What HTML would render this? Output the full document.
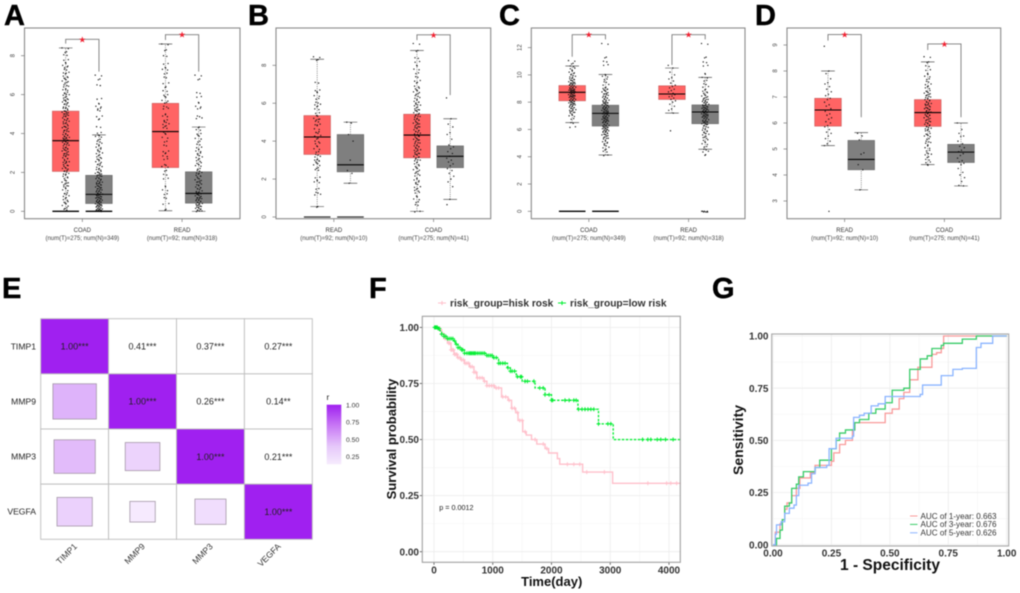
<!DOCTYPE html>
<html lang="en">
<head>
<meta charset="utf-8">
<title>Multi-panel expression, correlation and survival figure</title>
<style>
html,body{margin:0;padding:0;background:#fff;width:1020px;height:593px;overflow:hidden}
svg{display:block;filter:blur(.4px);font-family:"Liberation Sans",sans-serif}
.letter{font-size:29px;font-weight:700;fill:#000;stroke:#000;stroke-width:.4px}
</style>
</head>
<body>
<svg id="fig" width="1020" height="593" viewBox="0 0 1020 593" xmlns="http://www.w3.org/2000/svg">
<defs>
<linearGradient id="rScale" x1="0" y1="0" x2="0" y2="1"><stop offset="0" stop-color="#a020f0"/><stop offset=".35" stop-color="#c878f5"/><stop offset=".7" stop-color="#e6c8fa"/><stop offset="1" stop-color="#f6ecfd"/></linearGradient>
</defs>
<rect width="1020" height="593" fill="#fff"/>
<text class="letter" x="4" y="25">A</text>
<text class="letter" x="248" y="25">B</text>
<text class="letter" x="499" y="25">C</text>
<text class="letter" x="755" y="25">D</text>
<text class="letter" x="2" y="298">E</text>
<text class="letter" x="369" y="298">F</text>
<text class="letter" x="712" y="298">G</text>
</svg>
<script>
/* ---------- boxplot data: stats are [whiskerLow, q1, median, q3, whiskerHigh] ---------- */
const panelACategories = ['COAD','READ'];
const panelASubtitles = ['(num(T)=275; num(N)=349)','(num(T)=92; num(N)=318)'];
const panelAStats = [[0,2.05,3.63,5.15,8.4],[0,0.4,0.87,1.85,3.93],[0.03,2.25,4.1,5.55,8.6],[0,0.42,0.92,2.03,4.33]];
const panelAZeroBars = [1,1,0,0];
const panelABrackets = [[8.84,8.62,7.18],[9.08,8.81,7.18]];
const panelATicks = [0,2,4,6,8];
const panelAPoints = [
[8.4,8.2,8.05,7.8,7.65,7.5,7.42,7.3,7.15,7.1,6.95,6.88,6.8,6.7,6.62,6.5,6.43,6.3,6.25,6.12,6.05,6,5.9,5.82,5.75,5.7,5.62,5.55,5.5,5.4,5.33,5.3,5.2,5.15,5.1,5.04,5,4.93,4.9,4.8,4.75,4.7,4.63,4.55,4.5,4.4,4.35,4.3,4.2,4.15,4.1,4,3.95,3.9,3.83,3.8,3.75,3.7,3.65,3.6,3.55,3.5,3.45,3.4,3.3,3.25,3.2,3.15,3.1,3,2.95,2.9,2.85,2.75,2.7,2.6,2.55,2.5,2.4,2.35,2.25,2.2,2.1,2.05,1.95,1.9,1.8,1.72,1.6,1.5,1.45,1.35,1.3,1.2,1.1,0.95,0.9,0.8,0.7,0.6,0.5,0.42,0.3,0.18,0.1],
[7,6.8,6.5,5.8,5.55,5.4,5.3,5.2,4.9,4.75,4.35,4.05,3.92,3.85,3.7,3.6,3.5,3.4,3.3,3.2,3.1,3,2.9,2.8,2.72,2.65,2.55,2.45,2.4,2.3,2.2,2.15,2.05,2,1.95,1.9,1.85,1.8,1.72,1.68,1.6,1.55,1.5,1.45,1.4,1.35,1.3,1.25,1.2,1.15,1.1,1.05,1,0.97,0.92,0.88,0.85,0.8,0.75,0.72,0.68,0.65,0.6,0.57,0.52,0.5,0.47,0.42,0.38,0.35,0.32,0.28,0.25,0.22,0.18,0.15,0.12,0.1,0.08,0.05,0.03,0.02],
[8.6,8.3,8,7.6,7.4,7.3,7.1,6.9,6.6,6.4,6.2,6,5.9,5.7,5.6,5.4,5.3,5,4.9,4.7,4.6,4.5,4.4,4.3,4.1,4,3.8,3.6,3.4,3.1,3,2.85,2.7,2.4,2.3,2.1,1.9,1.7,1.3,1.1,0.9,0.7,0.4,0.1],
[7,6.8,6.1,5.9,5.6,5.4,5.3,4.9,4.8,4.33,4.2,4,3.9,3.75,3.6,3.45,3.3,3.2,3.1,3,2.9,2.8,2.7,2.6,2.5,2.42,2.35,2.2,2.1,2,1.95,1.85,1.8,1.7,1.62,1.55,1.5,1.4,1.35,1.25,1.2,1.15,1.05,1,0.95,0.9,0.85,0.8,0.72,0.7,0.65,0.6,0.55,0.5,0.45,0.4,0.35,0.3,0.25,0.2,0.15,0.1,0.05,0.02]
];

const panelBCategories = ['READ','COAD'];
const panelBSubtitles = ['(num(T)=92; num(N)=10)','(num(T)=275; num(N)=41)'];
const panelBStats = [[0.55,3.3,4.22,5.35,8.32],[1.78,2.38,2.75,4.35,5],[0.3,3.12,4.32,5.42,8.78],[0.93,2.6,3.2,3.75,5.18]];
const panelBZeroBars = [1,1,0,0];
const panelBBrackets = [null,[9.61,9.33,6.43]];
const panelBTicks = [0,2,4,6,8];
const panelBPoints = [
[8.45,8.3,7.1,6.7,6.6,6.4,6.25,6.05,5.95,5.85,5.7,5.5,5.35,5.2,5.15,5.05,4.9,4.85,4.65,4.5,4.45,4.3,4.15,4,3.9,3.75,3.6,3.45,3.3,3.2,3.05,3,2.95,2.85,2.75,2.6,2.5,2.1,1.95,1.85,1.5,1.3,1.2,0.55],
[5,4.95,4.35,4,3,2.45,2.3,1.78],
[9.15,8.78,8.4,8.2,8,7.8,7.6,7.4,7.2,7.1,6.9,6.8,6.7,6.6,6.5,6.4,6.3,6.2,6.1,6.05,5.95,5.9,5.8,5.7,5.65,5.6,5.5,5.42,5.35,5.3,5.2,5.15,5.1,5,4.95,4.9,4.8,4.75,4.7,4.6,4.55,4.5,4.42,4.35,4.3,4.25,4.15,4.1,4.05,3.95,3.9,3.8,3.75,3.7,3.62,3.55,3.5,3.4,3.35,3.3,3.2,3.15,3.05,3,2.9,2.8,2.7,2.6,2.5,2.4,2.3,2.2,2.05,1.95,1.85,1.75,1.6,1.5,1.4,1.3,1.1,0.95,0.8,0.65,0.3],
[6.28,5.18,4.9,4.75,4.45,4.35,4.1,3.8,3.7,3.6,3.45,3.35,3.2,3.1,3,2.9,2.8,2.7,2.55,2.45,2.3,2.15,2,1.85,1.6,0.93,0.65]
];

const panelCCategories = ['COAD','READ'];
const panelCSubtitles = ['(num(T)=275; num(N)=349)','(num(T)=92; num(N)=318)'];
const panelCStats = [[6.5,8.1,8.72,9.22,10.65],[4.13,6.25,7.18,7.78,10.03],[7.2,8.2,8.6,9.2,10.5],[4.55,6.42,7.28,7.8,9.82]];
const panelCZeroBars = [1,1,0,0];
const panelCBrackets = [[12.95,11.33,12.6],[12.95,10.73,12.6]];
const panelCTicks = [0,2,4,6,8,10,12];
const panelCPoints = [
[11.05,10.85,10.65,10.5,10.35,10.2,10.1,10,9.9,9.8,9.72,9.65,9.6,9.5,9.45,9.4,9.35,9.3,9.25,9.2,9.15,9.1,9.05,9,8.95,8.9,8.88,8.85,8.8,8.75,8.72,8.7,8.65,8.6,8.55,8.5,8.48,8.45,8.4,8.35,8.3,8.25,8.2,8.15,8.1,8.05,8,7.95,7.9,7.85,7.8,7.72,7.65,7.6,7.55,7.45,7.4,7.3,7.25,7.1,7,6.8,6.5,6.2],
[12.3,11.3,11,10.75,10.03,9.9,9.7,9.5,9.3,9.1,9,8.95,8.85,8.75,8.65,8.6,8.5,8.42,8.35,8.3,8.2,8.15,8.05,8,7.95,7.9,7.82,7.78,7.7,7.65,7.6,7.55,7.5,7.45,7.4,7.35,7.3,7.25,7.2,7.15,7.1,7.05,7,6.95,6.9,6.85,6.8,6.75,6.7,6.65,6.6,6.55,6.5,6.42,6.35,6.3,6.25,6.2,6.15,6.1,6.05,6,5.95,5.9,5.85,5.8,5.7,5.65,5.6,5.5,5.4,5.35,5.2,5.1,5,4.85,4.7,4.55,4.4,4.13],
[10.7,10.5,10.2,10,9.8,9.7,9.55,9.4,9.25,9.15,9.05,8.95,8.85,8.75,8.65,8.6,8.55,8.45,8.4,8.3,8.2,8.1,8,7.85,7.7,7.5,7.4,7.2,5.9],
[12.3,11.3,10.95,10.7,10.1,9.82,9.6,9.35,9.15,8.95,8.8,8.7,8.55,8.45,8.35,8.25,8.2,8.1,8.05,8,7.95,7.85,7.8,7.72,7.65,7.6,7.55,7.5,7.45,7.4,7.35,7.3,7.25,7.2,7.15,7.1,7.05,7,6.95,6.9,6.85,6.8,6.72,6.65,6.6,6.55,6.5,6.42,6.35,6.25,6.15,6.05,5.95,5.85,5.75,5.65,5.5,5.4,5.25,5.1,4.95,4.75,4.55,4.4,4.15,0,0,0,0]
];

const panelDCategories = ['READ','COAD'];
const panelDSubtitles = ['(num(T)=92; num(N)=10)','(num(T)=275; num(N)=41)'];
const panelDStats = [[5.13,5.88,6.5,6.95,8],[3.43,4.2,4.6,5.33,5.63],[4.4,5.87,6.4,6.9,8.35],[3.58,4.48,4.88,5.18,6]];
const panelDZeroBars = [0,0,0,0];
const panelDBrackets = [[9.4,9.17,6.22],[9.04,8.81,6.22]];
const panelDTicks = [3,4,5,6,7,8,9];
const panelDPoints = [
[8.95,8,7.9,7.7,7.55,7.5,7.4,7.3,7.2,7.1,7.05,6.95,6.9,6.8,6.7,6.65,6.55,6.5,6.45,6.35,6.3,6.2,6.15,6.05,6,5.9,5.85,5.75,5.65,5.6,5.5,5.4,5.3,5.2,5.13,2.6],
[5.6,5.5,5.35,4.85,4.8,4.4,4.2,3.43],
[8.55,8.35,8.2,8.05,7.9,7.8,7.7,7.6,7.5,7.42,7.35,7.25,7.2,7.15,7.1,7.05,7,6.95,6.9,6.85,6.8,6.75,6.72,6.68,6.62,6.58,6.55,6.5,6.45,6.42,6.38,6.32,6.3,6.25,6.2,6.15,6.1,6.05,6,5.95,5.9,5.85,5.8,5.75,5.7,5.6,5.55,5.5,5.4,5.3,5.25,5.15,5.05,4.95,4.85,4.8,4.7,4.6,4.5,4.4],
[6,5.75,5.6,5.5,5.48,5.3,5.2,5.1,5.05,4.95,4.9,4.82,4.75,4.65,4.55,4.5,4.45,4.4,4.25,4.1,4,3.9,3.75,3.6,3.58]
];

/* ---------- correlation heatmap data ---------- */
const heatmapGenes = ['TIMP1','MMP9','MMP3','VEGFA'];
const heatmapR = [[1,0.41,0.37,0.27],[0.41,1,0.26,0.14],[0.37,0.26,1,0.21],[0.27,0.14,0.21,1]];
const heatmapStars = [['***','***','***','***'],['***','***','***','**'],['***','***','***','***'],['***','**','***','***']];
const heatmapLegendTicks = [1,0.75,0.5,0.25];

/* ---------- survival data ---------- */
const highRiskTimes = [0,100,130,170,230,290,340,400,460,520,600,680,730,850,900,1030,1150,1260,1320,1390,1430,1510,1570,1660,1750,1890,1950,2100,2140,2530,3040,4200];
const highRiskSurvival = [1,0.99,0.97,0.95,0.93,0.9,0.88,0.865,0.855,0.84,0.825,0.8,0.775,0.76,0.74,0.73,0.69,0.675,0.64,0.62,0.585,0.535,0.52,0.5,0.48,0.46,0.44,0.415,0.39,0.355,0.305,0.305];
const lowRiskTimes = [0,60,100,130,170,230,330,370,410,470,520,850,880,1000,1100,1250,1300,1400,1500,1720,1890,2000,2450,2800,3050,4200];
const lowRiskSurvival = [1,0.995,0.985,0.97,0.96,0.95,0.94,0.925,0.91,0.9,0.885,0.885,0.875,0.865,0.84,0.82,0.805,0.78,0.76,0.73,0.7,0.675,0.635,0.57,0.5,0.5];
const highRiskCensorTimes = [20,60,100,130,160,190,220,250,270,290,310,330,350,370,390,410,440,470,500,530,560,590,620,650,680,710,740,780,820,860,900,940,980,1020,1060,1100,1170,1220,1280,1330,1370,1420,1460,1500,1550,1720,1860,1920,2270,2380,2480,2600,2900,3640,3960,4030,4130];
const lowRiskCensorTimes = [10,25,40,55,70,90,130,170,200,230,260,290,320,350,380,410,440,470,490,520,560,590,610,630,650,670,690,710,740,770,800,830,860,900,930,960,990,1020,1060,1100,1130,1170,1210,1260,1300,1330,1370,1420,1470,1490,1550,1590,1700,1800,1860,1890,1960,2000,2020,2230,2300,2380,2420,2460,2520,2570,2620,2670,2720,2800,2960,3010,3550,3640,3690,3800,3860,3940,4070];
const survivalXTicks = [0,1000,2000,3000,4000];
const survivalYTicks = [0,0.25,0.5,0.75,1];
const survivalLegendLabels = ['risk_group=hisk rosk','risk_group=low risk'];

/* ---------- ROC data ---------- */
const roc1Fpr = [0,0.01,0.03,0.04,0.05,0.06,0.08,0.1,0.115,0.16,0.18,0.25,0.26,0.285,0.31,0.34,0.35,0.47,0.48,0.51,0.54,0.56,0.585,0.62,0.68,0.7,0.72,0.73,1];
const roc1Tpr = [0,0.06,0.1,0.12,0.17,0.2,0.235,0.27,0.32,0.345,0.38,0.4,0.44,0.48,0.5,0.55,0.585,0.585,0.63,0.65,0.7,0.73,0.79,0.85,0.912,0.92,0.94,1,1];
const roc3Fpr = [0,0.015,0.03,0.04,0.05,0.07,0.08,0.1,0.11,0.13,0.18,0.2,0.25,0.27,0.285,0.31,0.35,0.37,0.41,0.44,0.48,0.51,0.56,0.585,0.63,0.66,0.68,0.72,0.73,0.81,0.87,1];
const roc3Tpr = [0,0.03,0.07,0.12,0.185,0.2,0.27,0.29,0.325,0.35,0.37,0.405,0.46,0.5,0.535,0.55,0.585,0.6,0.63,0.65,0.68,0.74,0.75,0.84,0.89,0.905,0.94,0.955,0.965,0.985,1,1];
const roc5Fpr = [0,0.01,0.015,0.035,0.05,0.07,0.09,0.1,0.11,0.15,0.165,0.18,0.23,0.24,0.27,0.34,0.345,0.37,0.39,0.42,0.45,0.48,0.53,0.63,0.64,0.72,0.77,0.81,0.87,0.89,0.94,1];
const roc5Tpr = [0,0.05,0.095,0.11,0.15,0.175,0.19,0.235,0.285,0.295,0.34,0.37,0.38,0.46,0.51,0.52,0.61,0.62,0.63,0.665,0.675,0.71,0.71,0.72,0.765,0.81,0.84,0.845,0.945,0.965,1,1];
const rocTicks = [0,0.25,0.5,0.75,1];
const rocLegendLabels = ['AUC of 1-year: 0.663','AUC of 3-year: 0.676','AUC of 5-year: 0.626'];

/* ---------- helpers ---------- */
const svg = document.getElementById('fig');
const NS = 'http://www.w3.org/2000/svg';
function add(parent, tag, attrs, text) {
  const node = document.createElementNS(NS, tag);
  for (const k in attrs) node.setAttribute(k, attrs[k]);
  if (text !== undefined) node.textContent = text;
  parent.appendChild(node);
  return node;
}
function stepPath(xs, ys, sx, sy) {
  let d = 'M' + sx(xs[0]).toFixed(2) + ' ' + sy(ys[0]).toFixed(2);
  for (let i = 1; i < xs.length; i++) d += 'H' + sx(xs[i]).toFixed(2) + 'V' + sy(ys[i]).toFixed(2);
  return d;
}

/* ---------- boxplot panels ---------- */
function drawBoxPanel(cfg) {
  const g = add(svg, 'g', {});
  
  
  const x = p => cfg.x0 + p * 33.25;
  const y = v => cfg.refPx - (v - cfg.refVal) * cfg.k;
  const slot = [0, 1, 3, 4];
  const bw = 13.3, capW = 6.8;

  const frame = add(g, 'rect', {x: cfg.left, y: 28, width: cfg.right - cfg.left, height: 190.7, fill: '#fff', stroke: '#8a8a8a', 'stroke-width': 1.1});
  
  

  cfg.ticks.forEach(t => {
    const tick = add(g, 'line', {x1: cfg.left - 3.5, x2: cfg.left, y1: y(t), y2: y(t), stroke: '#777', 'stroke-width': 0.7});
    
    
    const lx = cfg.left - 10;
    const label = add(g, 'text', {x: lx, y: y(t), 'font-size': 6, fill: '#444', 'text-anchor': 'middle', transform: 'rotate(-90 ' + lx + ' ' + y(t) + ')'}, String(t));
    
    
  });

  cfg.categories.forEach((c, i) => {
    const cx = x(i * 3 + 0.5);
    const tick = add(g, 'line', {x1: cx, x2: cx, y1: 218.7, y2: 222, stroke: '#777', 'stroke-width': 0.7});
    
    
    const name = add(g, 'text', {x: cx, y: 232, 'font-size': 6, fill: '#333', 'text-anchor': 'middle'}, c);
    
    
    const sub = add(g, 'text', {x: cx, y: 240, 'font-size': 6, fill: '#444', 'text-anchor': 'middle'}, cfg.subtitles[i]);
    
    
  });

  cfg.stats.forEach((s, b) => {
    const cx = x(slot[b]);
    const tumor = b % 2 === 0;
    const whisk = add(g, 'path', {d: 'M' + cx + ' ' + y(s[0]) + 'V' + y(s[1]) + 'M' + cx + ' ' + y(s[3]) + 'V' + y(s[4]), stroke: '#444', 'stroke-width': 0.6, 'stroke-dasharray': '1 1.2', fill: 'none'});
    
    
    const caps = add(g, 'path', {d: 'M' + (cx - capW) + ' ' + y(s[0]) + 'H' + (cx + capW) + 'M' + (cx - capW) + ' ' + y(s[4]) + 'H' + (cx + capW), stroke: '#555', 'stroke-width': 0.7, fill: 'none'});
    
    
    const box = add(g, 'rect', {x: cx - bw, y: y(s[3]), width: bw * 2, height: y(s[1]) - y(s[3]), fill: tumor ? '#ff6464' : '#7f7f7f', stroke: tumor ? '#c85a5a' : '#6a6a6a', 'stroke-width': 0.6});
    
    

    const pts = cfg.points[b];
    const dense = pts.length > 40;
    pts.forEach((v, i) => {
      const jit = (((i * 0.618034) % 1) - 0.5) * 7.4;
      const dot = add(g, 'circle', {cx: cx + jit, cy: y(v), r: 0.65, fill: '#111'});
      
      
      if (dense) {
        const twin = add(g, 'circle', {cx: cx - jit * 0.7, cy: y(v) + 0.7, r: 0.65, fill: '#111'});
        
        
      }
    });

    const med = add(g, 'line', {x1: cx - bw, x2: cx + bw, y1: y(s[2]), y2: y(s[2]), stroke: '#000', 'stroke-width': 1.1});
    
    

    if (cfg.zero[b]) {
      const zero = add(g, 'line', {x1: cx - bw, x2: cx + bw, y1: y(0), y2: y(0), stroke: cfg.zeroColor, 'stroke-width': 1.3});
      
      
    }
  });

  cfg.brackets.forEach((br, i) => {
    if (!br) return;
    const xl = x(i * 3), xr = x(i * 3 + 1);
    const path = add(g, 'path', {d: 'M' + xl + ' ' + y(br[1]) + 'V' + y(br[0]) + 'H' + xr + 'V' + y(br[2]), stroke: '#7a7a7a', 'stroke-width': 0.9, fill: 'none'});
    
    
    const star = add(g, 'text', {x: (xl + xr) / 2, y: y(br[0]) + 3, 'font-size': 8.5, fill: '#f02030', 'text-anchor': 'middle', style: 'font-family:"DejaVu Sans",sans-serif'}, '★');
    
    
  });
}
drawBoxPanel({name:'panel-a-boxplot', left:24.5, right:240, x0:65.7, refVal:0, refPx:211.3, k:19.45, ticks:panelATicks, categories:panelACategories, subtitles:panelASubtitles, stats:panelAStats, points:panelAPoints, zero:panelAZeroBars, zeroColor:'#000', brackets:panelABrackets});
drawBoxPanel({name:'panel-b-boxplot', left:276, right:490.7, x0:317.2, refVal:0, refPx:217, k:18.96, ticks:panelBTicks, categories:panelBCategories, subtitles:panelBSubtitles, stats:panelBStats, points:panelBPoints, zero:panelBZeroBars, zeroColor:'#333', brackets:panelBBrackets});
drawBoxPanel({name:'panel-c-boxplot', left:531.3, right:745, x0:572.2, refVal:0, refPx:211.3, k:13.64, ticks:panelCTicks, categories:panelCCategories, subtitles:panelCSubtitles, stats:panelCStats, points:panelCPoints, zero:panelCZeroBars, zeroColor:'#000', brackets:panelCBrackets});
drawBoxPanel({name:'panel-d-boxplot', left:787, right:1000.7, x0:828, refVal:3, refPx:201, k:26, ticks:panelDTicks, categories:panelDCategories, subtitles:panelDSubtitles, stats:panelDStats, points:panelDPoints, zero:panelDZeroBars, zeroColor:'#000', brackets:panelDBrackets});

/* ---------- panel E: correlation heatmap ---------- */
(function () {
  const g = add(svg, 'g', {});
  
  
  const x0 = 40.7, y0 = 318.7, w = 67.9, h = 55.15;
  const col = j => x0 + j * w;
  const row = i => y0 + i * h;
  const color = r => {
    const t = r >= 1 ? 1 : Math.pow(r, 1.2);
    return 'rgb(' + Math.round(255 - 95 * t) + ',' + Math.round(255 - 223 * t) + ',' + Math.round(255 - 15 * t) + ')';
  };
  heatmapR.forEach((rowVals, i) => {
    rowVals.forEach((r, j) => {
      const cell = add(g, 'rect', {x: col(j), y: row(i), width: w, height: h, fill: i === j ? '#a020f0' : '#fff', stroke: '#bdbdbd', 'stroke-width': 0.9});
      
      
      if (i > j) {
        const s = Math.sqrt(r);
        const sq = add(g, 'rect', {x: col(j) + w * (1 - s) / 2, y: row(i) + h * (1 - s) / 2, width: w * s, height: h * s, fill: color(r), stroke: '#a598a8', 'stroke-width': 0.8});
        
        
      } else {
        const tx = add(g, 'text', {x: col(j) + w / 2, y: row(i) + h / 2 + 3.2, 'font-size': 9, fill: '#222', 'text-anchor': 'middle'}, r.toFixed(2) + heatmapStars[i][j]);
        
        
      }
    });
  });
  heatmapGenes.forEach((name, i) => {
    const ly = add(g, 'text', {x: 36, y: row(i) + h / 2 + 3, 'font-size': 8.6, fill: '#222', 'text-anchor': 'end'}, name);
    
    
    const ax = col(i) + w / 2 + 3, ay = 547;
    const lx = add(g, 'text', {x: ax, y: ay, 'font-size': 8.6, fill: '#333', 'text-anchor': 'end', transform: 'rotate(-45 ' + ax + ' ' + ay + ')'}, name);
    
    
  });
  const rTitle = add(g, 'text', {x: 326.5, y: 400, 'font-size': 8.5, fill: '#222'}, 'r');
  
  
  const bar = add(g, 'rect', {x: 326.7, y: 404.7, width: 14.6, height: 59.6, fill: 'url(#rScale)'});
  
  
  heatmapLegendTicks.forEach(t => {
    const yy = 405 + (1 - t) * 68.8;
    const lab = add(g, 'text', {x: 346, y: yy + 2.5, 'font-size': 6.8, fill: '#333'}, t.toFixed(2));
    
    
  });
})();

/* ---------- panel F: survival ---------- */
(function () {
  const g = add(svg, 'g', {});
  
  
  const left = 422.3, right = 680.3, top = 316.3, bottom = 562.3;
  const sx = t => 434 + t * 0.05875;
  const sy = s => 551.7 - s * 224.3;

  [500, 1500, 2500, 3500].forEach(t => {
    const m = add(g, 'line', {x1: sx(t), x2: sx(t), y1: top, y2: bottom, stroke: '#f6f6f6', 'stroke-width': 0.7});
    
    
  });
  [0.125, 0.375, 0.625, 0.875].forEach(v => {
    const m = add(g, 'line', {x1: left, x2: right, y1: sy(v), y2: sy(v), stroke: '#f6f6f6', 'stroke-width': 0.7});
    
    
  });
  survivalXTicks.forEach(t => {
    const m = add(g, 'line', {x1: sx(t), x2: sx(t), y1: top, y2: bottom, stroke: '#ececec', 'stroke-width': 0.8});
    
    
    const k = add(g, 'line', {x1: sx(t), x2: sx(t), y1: bottom, y2: bottom + 2.5, stroke: '#444', 'stroke-width': 0.8});
    
    
    const l = add(g, 'text', {x: sx(t), y: 573.5, 'font-size': 10, 'font-weight': 700, fill: '#333', 'text-anchor': 'middle'}, String(t));
    
    
  });
  survivalYTicks.forEach(v => {
    const m = add(g, 'line', {x1: left, x2: right, y1: sy(v), y2: sy(v), stroke: '#ececec', 'stroke-width': 0.8});
    
    
    const k = add(g, 'line', {x1: left - 2.5, x2: left, y1: sy(v), y2: sy(v), stroke: '#444', 'stroke-width': 0.8});
    
    
    const l = add(g, 'text', {x: 419, y: sy(v) + 3.6, 'font-size': 10, 'font-weight': 700, fill: '#333', 'text-anchor': 'end'}, v.toFixed(2));
    
    
  });

  const series = [
    {t: highRiskTimes, s: highRiskSurvival, c: highRiskCensorTimes, color: '#ffc0cb', dash: 'none', w: 1.4},
    {t: lowRiskTimes, s: lowRiskSurvival, c: lowRiskCensorTimes, color: '#00ee30', dash: '2.4 1.6', w: 1.3}
  ];
  series.forEach((ser, idx) => {
    const line = add(g, 'path', {d: stepPath(ser.t, ser.s, sx, sy), fill: 'none', stroke: ser.color, 'stroke-width': ser.w, 'stroke-dasharray': ser.dash});
    
    
    ser.c.forEach(ct => {
      let v = ser.s[0];
      for (let i = 0; i < ser.t.length; i++) if (ser.t[i] <= ct) v = ser.s[i];
      const mark = add(g, 'path', {d: 'M' + (sx(ct) - 2) + ' ' + sy(v) + 'h4M' + sx(ct) + ' ' + (sy(v) - 2) + 'v4', stroke: ser.color, 'stroke-width': 1, fill: 'none'});
      
      
    });
  });

  const frame = add(g, 'rect', {x: left, y: top, width: right - left, height: bottom - top, fill: 'none', stroke: '#a0a0a0', 'stroke-width': 1.1});
  
  

  survivalLegendLabels.forEach((lab, i) => {
    const lx = i === 0 ? 438 : 558;
    const color = series[i].color;
    const k = add(g, 'path', {d: 'M' + lx + ' 303h8M' + (lx + 4) + ' 301v4', stroke: color, 'stroke-width': 1.1, fill: 'none'});
    
    
    const t = add(g, 'text', {x: lx + 12, y: 306.5, 'font-size': 10.2, 'font-weight': 700, fill: '#333'}, lab);
    
    
  });

  const p = add(g, 'text', {x: 439.3, y: 510, 'font-size': 7.2, fill: '#222'}, 'p = 0.0012');
  
  
  const xt = add(g, 'text', {x: 551.7, y: 586, 'font-size': 13, 'font-weight': 700, fill: '#111', 'text-anchor': 'middle'}, 'Time(day)');
  
  
  const yt = add(g, 'text', {x: 396, y: 439, 'font-size': 13, 'font-weight': 700, fill: '#111', 'text-anchor': 'middle', transform: 'rotate(-90 396 439)'}, 'Survival probability');
  
  
})();

/* ---------- panel G: ROC ---------- */
(function () {
  const g = add(svg, 'g', {});
  
  
  const left = 771.7, right = 1008.7, top = 334, bottom = 546;
  const sx = v => 773 + v * 233.7;
  const sy = v => 544.7 - v * 208.7;

  [0.125, 0.375, 0.625, 0.875].forEach(v => {
    const a = add(g, 'line', {x1: sx(v), x2: sx(v), y1: top, y2: bottom, stroke: '#f6f6f6', 'stroke-width': 0.7});
    
    
    const b = add(g, 'line', {x1: left, x2: right, y1: sy(v), y2: sy(v), stroke: '#f6f6f6', 'stroke-width': 0.7});
    
    
  });
  rocTicks.forEach(v => {
    const a = add(g, 'line', {x1: sx(v), x2: sx(v), y1: top, y2: bottom, stroke: '#ececec', 'stroke-width': 0.8});
    
    
    const b = add(g, 'line', {x1: left, x2: right, y1: sy(v), y2: sy(v), stroke: '#ececec', 'stroke-width': 0.8});
    
    
    const lx = add(g, 'text', {x: sx(v), y: 556.5, 'font-size': 10, 'font-weight': 700, fill: '#333', 'text-anchor': 'middle'}, v.toFixed(2));
    
    
    const ly = add(g, 'text', {x: 768.5, y: sy(v) + 3.6, 'font-size': 10, 'font-weight': 700, fill: '#333', 'text-anchor': 'end'}, v.toFixed(2));
    
    
  });
  const rocColors = ['#f99a9a', '#38cc68', '#8ab4ff'];
  const c1 = add(g, 'path', {d: stepPath(roc1Fpr, roc1Tpr, sx, sy), fill: 'none', stroke: rocColors[0], 'stroke-width': 1.3});
  
  
  const c3 = add(g, 'path', {d: stepPath(roc3Fpr, roc3Tpr, sx, sy), fill: 'none', stroke: rocColors[1], 'stroke-width': 1.3});
  
  
  const c5 = add(g, 'path', {d: stepPath(roc5Fpr, roc5Tpr, sx, sy), fill: 'none', stroke: rocColors[2], 'stroke-width': 1.3});
  
  

  const frame = add(g, 'rect', {x: left, y: top, width: right - left, height: bottom - top, fill: 'none', stroke: '#a8a8a8', 'stroke-width': 1.1});
  
  

  rocLegendLabels.forEach((lab, i) => {
    const yy = 516 + i * 8.4;
    const k = add(g, 'line', {x1: 910, x2: 917.5, y1: yy, y2: yy, stroke: rocColors[i], 'stroke-width': 1});
    
    
    const t = add(g, 'text', {x: 920.5, y: yy + 2.8, 'font-size': 8.1, fill: '#333'}, lab);
    
    
  });
  const xt = add(g, 'text', {x: 890, y: 570, 'font-size': 15.5, 'font-weight': 700, fill: '#111', 'text-anchor': 'middle'}, '1 - Specificity');
  
  
  const yt = add(g, 'text', {x: 743, y: 440, 'font-size': 14, 'font-weight': 700, fill: '#111', 'text-anchor': 'middle', transform: 'rotate(-90 743 440)'}, 'Sensitivity');
  
  
})();
</script>
</body>
</html>
